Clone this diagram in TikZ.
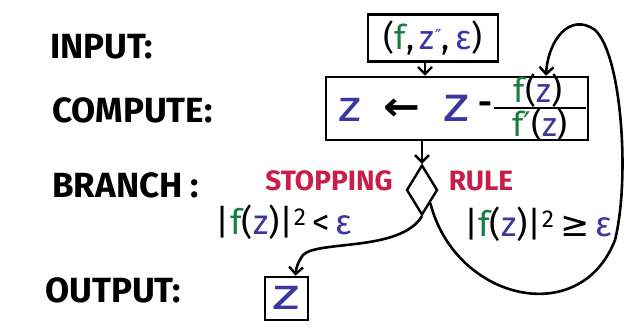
\documentclass[tikz,border=0pt]{standalone}
\usepackage{fontspec}
\setmainfont{Fira Sans}
\newfontfamily\sym{DejaVu Sans}
\usetikzlibrary{arrows.meta,shapes.geometric}
\definecolor{gr}{RGB}{25,125,65}
\definecolor{bl}{RGB}{60,55,160}
\definecolor{rd}{RGB}{200,30,75}
\newcommand{\fzz}{\textcolor{gr}{f}(\textcolor{bl}{z})}
\begin{document}
\begin{tikzpicture}[x=1pt,y=-1pt,
  lbl/.style={font=\fontsize{35}{37}\selectfont\bfseries, anchor=west, inner sep=0},
  rule/.style={font=\fontsize{28}{30}\selectfont\bfseries, text=rd, inner sep=0},
  cond/.style={font=\fontsize{35}{37}\selectfont, inner sep=0},
  box/.style={draw, line width=2.6pt, inner sep=0},
  conn/.style={line width=2.6pt, -{Straight Barb[length=7pt,width=14pt,line width=2.4pt]}},
  big/.style={font=\fontsize{44}{46}\selectfont, text=bl, inner sep=0, xscale=1.2}]
\useasboundingbox (0,0) rectangle (630,329);
% row labels
\node[lbl] (lin) at (50,47) {INPUT:};
\node[lbl] (lcm) at (52,110) {COMPUTE:};
\node[lbl] (lbr) at (52,185) {BRANCH :};
\node[lbl] (lout) at (45,290) {OUTPUT:};
% input box
\node[box, minimum width=130pt, minimum height=47pt, font=\fontsize{34}{36}\selectfont] (inp) at (433,38)
  {(\textcolor{gr}{f},\,\textcolor{bl}{z\raisebox{7pt}{\sym\fontsize{18}{18}\selectfont ″}},\,\textcolor{bl}{ε})};
% compute box
\node[box, minimum width=262pt, minimum height=63pt] (cmp) at (457,108.5) {};
\node[big] (z1) at (350,110) {z};
\node[font=\sym\bfseries\fontsize{40}{40}\selectfont, inner sep=0, xscale=1.1] (arr) at (402,110) {←};
\node[big, font=\fontsize{50}{52}\selectfont] (z2) at (457,108) {z};
\node[font=\fontsize{34}{34}\selectfont\bfseries, inner sep=0] (mn) at (485,108) {-};
\node[font=\fontsize{34}{36}\selectfont, inner sep=0] (num) at (538,91) {\fzz};
\node[font=\fontsize{34}{36}\selectfont, inner sep=0] (den) at (540,125) {\textcolor{gr}{f{\sym ′}}(\textcolor{bl}{z})};
\draw[line width=2.4pt] (494,108) -- (586,108);
% branch
\node[draw, shape=diamond, line width=2.4pt, minimum width=31pt, minimum height=50pt, inner sep=0] (dia) at (422,190) {};
\node[rule] (stop) at (329,181) {STOPPING};
\node[rule] (rl) at (481,181) {RULE};
\node[cond] (cl) at (284,222) {|\fzz|\textsuperscript{2}\,<\,\textcolor{bl}{ε}};
\node[cond] (cr) at (538,224) {|\fzz|\textsuperscript{2}\,{\sym ≥}\,\textcolor{bl}{ε}};
% output
\node[box, minimum width=43pt, minimum height=43pt] (out) at (286.5,298.5) {};
\node[big, xscale=1.2] (zo) at (286.5,298) {z};
% connectors
\draw[conn] ([xshift=-8pt]inp.south) -- ([xshift=-8pt]inp.south |- cmp.north);
\draw[conn] (cmp.south -| dia.north) -- (dia.north);
\draw[conn] (dia.south) .. controls (400,252) and (318,240) .. (303,255)
  .. controls (298,262) and (296,268) .. ([xshift=9pt]out.north);
\draw[conn] (dia.south east) .. controls (455,300) and (580,330) .. (615,240)
  .. controls (630,180) and (622,55) .. (595,30)
  .. controls (570,12) and (548,40) .. ([xshift=89pt]cmp.north);
\end{tikzpicture}
\end{document}
